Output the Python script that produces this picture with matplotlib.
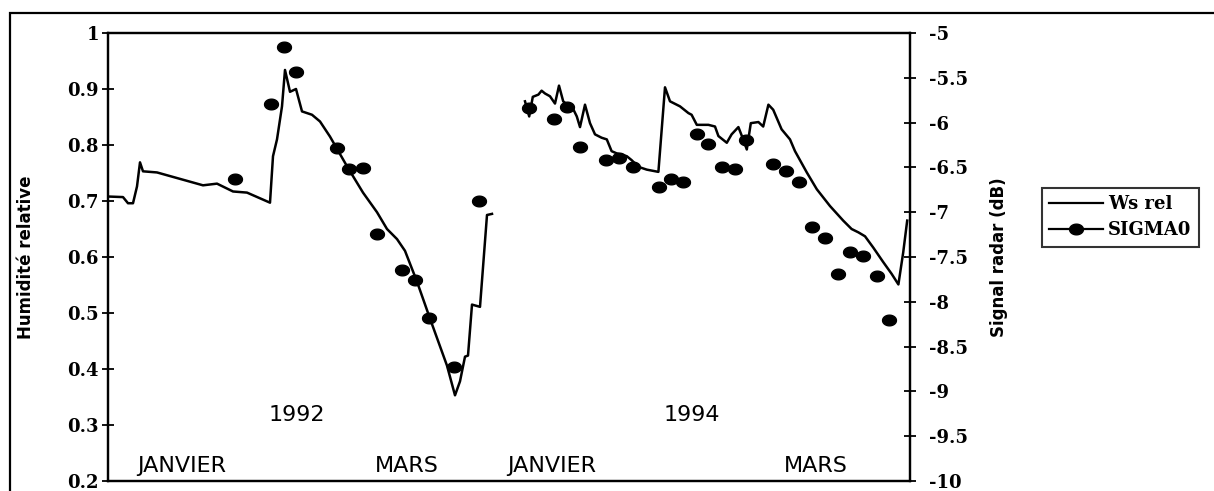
import numpy as np
import matplotlib
matplotlib.use("Agg")
import matplotlib.pyplot as plt
from matplotlib.lines import Line2D
from matplotlib.patches import Rectangle
from matplotlib.path import Path

# --- data (x = time index, 1992 then 1994 side by side) ---
x_ws92 = [0, 3.75, 5, 6.25, 7.25, 8, 8.75, 12.25, 23.75, 27.25, 31.25, 34.75, 40.5, 41.25,
          42.25, 43.5, 44.25, 45.5, 47, 48.5, 51, 53, 55.5, 59.75, 63.75, 67.25, 69.75,
          72.25, 74.25, 77.25, 80.5, 84.75, 86.75, 88, 89.25, 90, 91, 93, 94.75, 96]
ws92 = [0.708, 0.707, 0.696, 0.696, 0.726, 0.769, 0.753, 0.751, 0.728, 0.731, 0.717, 0.715,
        0.697, 0.780, 0.810, 0.869, 0.934, 0.895, 0.900, 0.860, 0.854, 0.842, 0.815, 0.762,
        0.715, 0.680, 0.650, 0.632, 0.611, 0.556, 0.490, 0.406, 0.353, 0.378, 0.422, 0.424,
        0.515, 0.511, 0.675, 0.677]

x_ws94 = [104.25, 105.3, 106.2, 107.6, 108.4, 109.25, 110.5, 111.75, 112.75, 113.8, 114.8,
          115.9, 117.2, 118, 119.25, 120.5, 121.75, 123.4, 124.7, 125.9, 127.2, 129.7, 130.9,
          132.6, 134.7, 137.6, 139.25, 140.5, 143, 145.1, 145.9, 147.2, 150.1, 151.75, 152.6,
          154.7, 155.9, 157.6, 158.8, 159.7, 160.7, 162.6, 163.8, 165.1, 166.3, 168.4, 170.5,
          171.75, 174.7, 177.2, 180.5, 183.8, 185.9, 187.6, 189.25, 191.3, 193.8, 195.9,
          197.6, 198.8, 199.8]
ws94 = [0.878, 0.851, 0.886, 0.890, 0.897, 0.892, 0.887, 0.874, 0.906, 0.878, 0.872, 0.870,
        0.851, 0.832, 0.872, 0.839, 0.819, 0.813, 0.810, 0.789, 0.785, 0.780, 0.773, 0.761,
        0.756, 0.752, 0.903, 0.878, 0.869, 0.857, 0.854, 0.836, 0.836, 0.833, 0.816, 0.804,
        0.819, 0.832, 0.810, 0.792, 0.839, 0.841, 0.833, 0.872, 0.863, 0.828, 0.810, 0.789,
        0.751, 0.721, 0.691, 0.665, 0.650, 0.644, 0.637, 0.617, 0.591, 0.570, 0.551, 0.608,
        0.665]

x_sig92 = [31.75, 40.75, 44, 47, 57.25, 60.25, 63.75, 67.25, 73.5, 76.75, 80.25, 86.5, 92.75]
sig92 = [-6.63, -5.79, -5.16, -5.44, -6.28, -6.52, -6.51, -7.24, -7.64, -7.76, -8.18, -8.73, -6.88]

x_sig94 = [105.3, 111.5, 114.8, 118, 124.5, 127.8, 131.2, 137.75, 140.7, 143.7, 147.2, 150.1,
           153.4, 156.75, 159.5, 166.2, 169.4, 172.75, 176.1, 179.25, 182.4, 185.5, 188.8,
           192.2, 195.3]
sig94 = [-5.84, -5.96, -5.83, -6.27, -6.42, -6.39, -6.50, -6.72, -6.63, -6.66, -6.13, -6.24,
         -6.50, -6.52, -6.19, -6.46, -6.54, -6.66, -7.16, -7.29, -7.69, -7.44, -7.49, -7.71,
         -8.20]

left_ticks = [0.2, 0.3, 0.4, 0.5, 0.6, 0.7, 0.8, 0.9, 1]
left_labels = ["0.2", "0.3", "0.4", "0.5", "0.6", "0.7", "0.8", "0.9", "1"]
right_ticks = [-10, -9.5, -9, -8.5, -8, -7.5, -7, -6.5, -6, -5.5, -5]
right_labels = ["-10", "-9.5", "-9", "-8.5", "-8", "-7.5", "-7", "-6.5", "-6", "-5.5", "-5"]

months = [(18.5, "JANVIER"), (74.75, "MARS"), (111, "JANVIER"), (177, "MARS")]
years = [(47.25, "1992"), (146, "1994")]

tickfont = dict(family="DejaVu Serif", weight="bold", size=13)

# slightly flattened dot, like the scanned original
t = np.linspace(0, 2*np.pi, 40)
dot = Path(np.column_stack([1.3*np.cos(t), np.sin(t)]), closed=True)

fig = plt.figure(figsize=(12.14, 4.91), dpi=100)
ax = fig.add_axes([108/1214, 10/491, 802/1214, 448/491])
ax2 = ax.twinx()

ax.plot(x_ws92, ws92, color="k", lw=1.8)
ax.plot(x_ws94, ws94, color="k", lw=1.8)
ax2.plot(x_sig92, sig92, ls="none", marker=dot, color="k", ms=10)
ax2.plot(x_sig94, sig94, ls="none", marker=dot, color="k", ms=10)

ax.set_xlim(0, 200.5)
ax.set_ylim(0.2, 1)
ax2.set_ylim(-10, -5)
ax.set_xticks([])

ax.set_yticks(left_ticks)
ax.set_yticklabels(left_labels, fontdict=tickfont)
ax2.set_yticks(right_ticks)
ax2.set_yticklabels(right_labels, fontdict=tickfont)
ax.tick_params(axis="y", direction="inout", length=9, width=1.3, pad=2)
ax2.tick_params(axis="y", direction="inout", length=9, width=1.3, pad=9)

for a in (ax, ax2):
    for sp in a.spines.values():
        sp.set_linewidth(1.6)

ax.set_ylabel("Humidité relative", family="DejaVu Sans", weight="bold", fontsize=12)
ax.yaxis.set_label_coords(-0.091, 0.5)
ax2.set_ylabel("Signal radar (dB)", family="DejaVu Sans", weight="bold", fontsize=12)
ax2.yaxis.set_label_coords(1.1, 0.5)

for xm, txt in months:
    ax.text(xm, 0.227, txt, ha="center", va="center", fontsize=16, family="DejaVu Sans")
for xy, txt in years:
    ax.text(xy, 0.317, txt, ha="center", va="center", fontsize=16, family="DejaVu Sans")

h1 = Line2D([], [], color="k", lw=1.6)
h2 = Line2D([], [], color="k", lw=1.6, marker=dot, ms=10)
leg = fig.legend([h1, h2], ["Ws rel", "SIGMA0"], loc="upper left",
                 bbox_to_anchor=(1042/1214, 1 - 188/491), bbox_transform=fig.transFigure,
                 frameon=True, fancybox=False, handlelength=3, borderaxespad=0,
                 borderpad=0.4, labelspacing=0.45, handletextpad=0.25,
                 prop=dict(family="DejaVu Serif", weight="bold", size=13))
leg.get_frame().set_edgecolor("k")
leg.get_frame().set_linewidth(1.5)

# outer frame around the whole chart
fig.patches.append(Rectangle((10/1214, -0.1), 1.0, 1.1 - 13/491, transform=fig.transFigure,
                             fill=False, edgecolor="k", lw=1.6, clip_on=False))

fig.savefig("out.png", dpi=100)
